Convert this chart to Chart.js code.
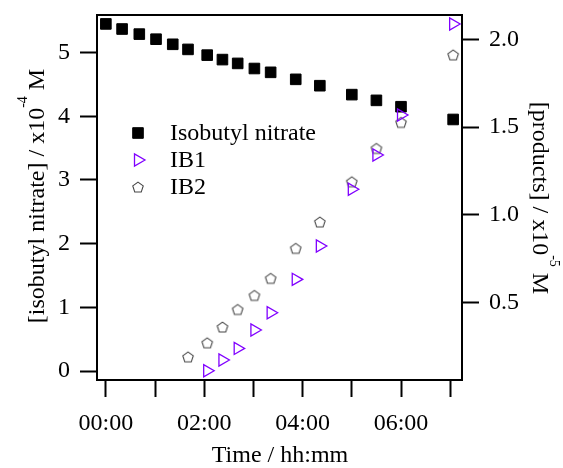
<!DOCTYPE html>
<html>
<head>
<meta charset="utf-8">
<script src="https://cdn.jsdelivr.net/npm/chart.js@4.4.0/dist/chart.umd.min.js"></script>
<style>
body { margin: 0; background: #fff; }
</style>
</head>
<body>
<canvas id="kineticsGraph" width="563" height="468"></canvas>
<script>
// sample times in hours
var timeHours = [0, 0.33, 0.68, 1.02, 1.36, 1.67, 2.06, 2.37, 2.68, 3.02, 3.35, 3.86, 4.35, 5.0, 5.5, 6.0, 7.06];
// [isobutyl nitrate] in 1e-4 M
var nitrateConc = [5.45, 5.37, 5.29, 5.21, 5.13, 5.05, 4.96, 4.89, 4.83, 4.75, 4.69, 4.58, 4.48, 4.34, 4.25, 4.15, 3.95];
// products in 1e-5 M (null = not measured yet)
var ib1Conc = [null, null, null, null, null, null, 0.113, 0.174, 0.24, 0.345, 0.443, 0.633, 0.823, 1.146, 1.341, 1.569, 2.087];
var ib2Conc = [null, null, null, null, null, 0.192, 0.272, 0.362, 0.462, 0.542, 0.639, 0.81, 0.96, 1.189, 1.379, 1.527, 1.911];

var seriesNames = ["Isobutyl nitrate", "IB1", "IB2"];
var hourTicks = [0, 1, 2, 3, 4, 5, 6, 7];
var leftTicks = [0, 1, 2, 3, 4, 5];
var rightTicks = [0.5, 1.0, 1.5, 2.0];

var serifFont = "'Liberation Serif', 'Times New Roman', serif";
Chart.defaults.font.family = serifFont;
Chart.defaults.color = "#000";

function to_points(values) {
    var pts = [];
    for (var i = 0; i < values.length; i++) {
        if (values[i] !== null) {
            pts.push({ x: timeHours[i], y: values[i] });
        }
    }
    return pts;
}

function make_pentagon() {
    var c = document.createElement("canvas");
    c.width = 14;
    c.height = 14;
    var g = c.getContext("2d");
    g.strokeStyle = "#444";
    g.lineWidth = 1.1;
    g.beginPath();
    for (var k = 0; k < 5; k++) {
        var a = -Math.PI / 2 + k * 2 * Math.PI / 5;
        var px = 7 + 5.5 * Math.cos(a);
        var py = 7.6 + 5.5 * Math.sin(a);
        if (k == 0) g.moveTo(px, py); else g.lineTo(px, py);
    }
    g.closePath();
    g.stroke();
    return c;
}
var pentagon = make_pentagon();

function fmt_hour(v) {
    if (v % 2 != 0) return "";
    return (v < 10 ? "0" : "") + v + ":00";
}

function draw_title(ctx, cx, cy, angle, base, sup, tail) {
    var mainFont = "24px " + serifFont;
    var supFont = "14px " + serifFont;
    ctx.save();
    ctx.translate(cx, cy);
    ctx.rotate(angle);
    ctx.fillStyle = "#000";
    ctx.textBaseline = "alphabetic";
    ctx.textAlign = "left";
    ctx.font = mainFont;
    var w1 = ctx.measureText(base).width;
    var w3 = ctx.measureText(tail).width;
    ctx.font = supFont;
    var w2 = ctx.measureText(sup).width;
    var x = -(w1 + w2 + w3) / 2;
    ctx.font = mainFont;
    ctx.fillText(base, x, 0);
    ctx.font = supFont;
    ctx.fillText(sup, x + w1, -17);
    ctx.font = mainFont;
    ctx.fillText(tail, x + w1 + w2, 0);
    ctx.restore();
}

var framePlugin = {
    id: "frame",
    afterDraw: function (chart) {
        var ctx = chart.ctx;
        var area = chart.chartArea;
        ctx.save();
        // top edge of the box
        ctx.strokeStyle = "#000";
        ctx.lineWidth = 2;
        ctx.beginPath();
        ctx.moveTo(area.left - 1, area.top);
        ctx.lineTo(area.right + 1, area.top);
        ctx.stroke();

        // axis titles
        draw_title(ctx, 44, 196, -Math.PI / 2, "[isobutyl nitrate] / x10", "-4", " M");
        draw_title(ctx, 533, 198, Math.PI / 2, "[products] / x10", "-5", " M");
        ctx.font = "24px " + serifFont;
        ctx.textAlign = "center";
        ctx.textBaseline = "alphabetic";
        ctx.fillStyle = "#000";
        ctx.fillText("Time / hh:mm", 280, 462);

        // legend
        var rows = [133, 160, 187];
        ctx.font = "24px " + serifFont;
        ctx.textAlign = "left";
        ctx.textBaseline = "middle";
        chart.data.datasets.forEach(function (ds, i) {
            ctx.fillStyle = ds.backgroundColor;
            ctx.strokeStyle = ds.borderColor;
            ctx.lineWidth = ds.borderWidth;
            Chart.helpers.drawPoint(ctx, {
                pointStyle: ds.pointStyle,
                radius: ds.pointRadius,
                rotation: ds.rotation || 0,
                borderWidth: ds.borderWidth
            }, 138, rows[i]);
            ctx.fillStyle = "#000";
            ctx.fillText(seriesNames[i], 170, rows[i] + 1);
        });
        ctx.restore();
    }
};

var axisLook = {
    border: { color: "#000", width: 2 },
    grid: { drawOnChartArea: false, tickLength: 17, tickWidth: 2, tickColor: "#000" }
};

function no_padding(scale) {
    scale.paddingTop = 0;
    scale.paddingBottom = 0;
    scale.paddingLeft = 0;
    scale.paddingRight = 0;
}

var kineticsGraph = new Chart("kineticsGraph", {
    type: "scatter",
    data: {
        datasets: [
            {
                label: seriesNames[0],
                data: to_points(nitrateConc),
                yAxisID: "yLeft",
                pointStyle: "rect",
                pointRadius: 7.5,
                pointHoverRadius: 7.5,
                backgroundColor: "#000",
                borderColor: "#000",
                borderWidth: 1,
                order: 3
            },
            {
                label: seriesNames[1],
                data: to_points(ib1Conc),
                yAxisID: "yRight",
                pointStyle: "triangle",
                rotation: 90,
                pointRotation: 90,
                pointRadius: 7,
                pointHoverRadius: 7,
                backgroundColor: "rgba(0,0,0,0)",
                borderColor: "#8000ff",
                borderWidth: 1.3,
                order: 1
            },
            {
                label: seriesNames[2],
                data: to_points(ib2Conc),
                yAxisID: "yRight",
                pointStyle: pentagon,
                pointRadius: 7,
                pointHoverRadius: 7,
                backgroundColor: "rgba(0,0,0,0)",
                borderColor: "#444",
                borderWidth: 1,
                order: 2
            }
        ]
    },
    options: {
        responsive: false,
        animation: false,
        events: [],
        layout: { padding: { top: 15, left: 0, right: 0, bottom: 0 } },
        plugins: {
            legend: { display: false },
            tooltip: { enabled: false }
        },
        scales: {
            x: {
                type: "linear",
                position: "bottom",
                min: -0.18,
                max: 7.24,
                border: axisLook.border,
                grid: axisLook.grid,
                afterBuildTicks: function (scale) {
                    scale.ticks = hourTicks.map(function (v) { return { value: v }; });
                },
                afterFit: function (scale) { scale.height = 88; no_padding(scale); },
                ticks: {
                    autoSkip: false,
                    maxRotation: 0,
                    padding: 12,
                    font: { size: 24 },
                    callback: function (v) { return fmt_hour(v); }
                }
            },
            yLeft: {
                type: "linear",
                position: "left",
                min: -0.14,
                max: 5.59,
                border: axisLook.border,
                grid: axisLook.grid,
                afterBuildTicks: function (scale) {
                    scale.ticks = leftTicks.map(function (v) { return { value: v }; });
                },
                afterFit: function (scale) { scale.width = 97; no_padding(scale); },
                ticks: {
                    padding: 10,
                    font: { size: 24 },
                    callback: function (v) { return String(v); }
                }
            },
            yRight: {
                type: "linear",
                position: "right",
                min: 0.06,
                max: 2.138,
                border: axisLook.border,
                grid: axisLook.grid,
                afterBuildTicks: function (scale) {
                    scale.ticks = rightTicks.map(function (v) { return { value: v }; });
                },
                afterFit: function (scale) { scale.width = 101; no_padding(scale); },
                ticks: {
                    padding: 10,
                    font: { size: 24 },
                    callback: function (v) { return v.toFixed(1); }
                }
            }
        }
    },
    plugins: [framePlugin]
});
</script>
</body>
</html>
